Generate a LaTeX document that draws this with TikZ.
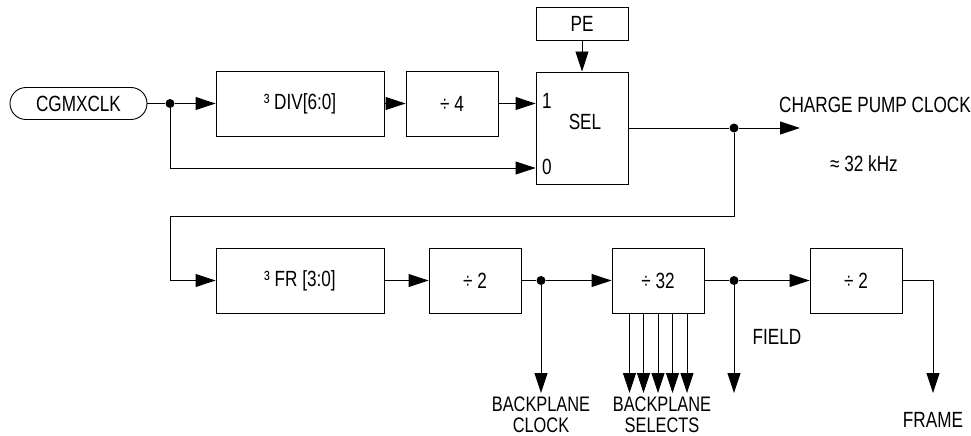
\documentclass[tikz,border=0pt]{standalone}
\usepackage{fontspec}
\setmainfont{Liberation Sans}[FakeStretch=0.78]
\usetikzlibrary{arrows.meta}

\begin{document}
\begin{tikzpicture}[x=1pt, y=-1pt, line width=0.9pt,
    font=\fontsize{22}{19}\selectfont,
    blk/.style={draw, minimum height=65pt, inner sep=0pt},
    wideblk/.style={blk, minimum width=168pt},
    smallblk/.style={blk, minimum width=92pt},
    sig/.style={-{Triangle[length=20pt,width=13pt]}},
    dot/.style={circle, fill, inner sep=0pt, minimum size=9pt},
    txt/.style={inner sep=0pt, align=center},
    twoline/.style={txt, font=\fontsize{21}{20.5}\selectfont}]
  \useasboundingbox (0,0) rectangle (971,436);

  % upper row
  \node[draw, rounded corners=16pt, minimum width=137pt, minimum height=32pt] (clk) at (78.5,103.5) {CGMXCLK};
  \node[wideblk] (div) at (300,103.5) {³ DIV[6:0]};
  \node[smallblk] (dfour) at (452,103.5) {÷ 4};
  \node[smallblk, minimum height=112pt] (sel) at (582,128) {};
  \node[smallblk, minimum height=33pt] (pe) at (582,23.5) {PE};
  \node[txt] (sellbl) at (585,122) {SEL};
  \node[txt] (inone) at (547,101) {1};
  \node[txt] (inzero) at (547,167) {0};
  \node[txt] (cpclbl) at (875,105) {CHARGE PUMP CLOCK};
  \node[txt] (khz) at (864,164) {≈ 32 kHz};

  \node[dot] (j1) at (170,103.5) {};
  \node[dot] (j2) at (734,128) {};
  \coordinate (low) at (0,168);
  \coordinate (cpc) at (800,128);
  \coordinate (back) at (170,216);

  \draw (clk) -- (j1);
  \draw[sig] (j1) -- (div);
  \draw[sig] (div) -- (dfour);
  \draw[sig] (dfour) -- (dfour -| sel.west);
  \draw[sig] (j1) |- (low -| sel.west);
  \draw[sig] (pe) -- (sel);
  \draw (sel) -- (j2);
  \draw[sig] (j2) -- (cpc);

  % lower row
  \node[wideblk] (fr) at (300,280.5) {³ FR [3:0]};
  \node[smallblk] (dtwo) at (475,280.5) {÷ 2};
  \node[smallblk] (dtt) at (658,280.5) {÷ 32};
  \node[smallblk] (dfr) at (856,280.5) {÷ 2};

  \node[dot] (j3) at (541,280.5) {};
  \node[dot] (j4) at (734,280.5) {};
  \coordinate (tips) at (0,393);
  \coordinate (frcorner) at (933,280.5);

  \draw[sig] (j2) |- (back) |- (fr);
  \draw[sig] (fr) -- (dtwo);
  \draw (dtwo) -- (j3);
  \draw[sig] (j3) -- (dtt);
  \draw[sig] (j3) -- (j3 |- tips);
  \foreach \dx in {-28.5,-14.5,0,14.5,29}
    \draw[sig] ([xshift=\dx]dtt.south) -- ([xshift=\dx]dtt.south |- tips);
  \draw (dtt) -- (j4);
  \draw[sig] (j4) -- (dfr);
  \draw[sig] (j4) -- (j4 |- tips);
  \draw[sig] (dfr) -- (frcorner) -- (frcorner |- tips);

  \node[twoline] (bpclk) at (541,415) {BACKPLANE\\CLOCK};
  \node[twoline] (bpsel) at (662,415) {BACKPLANE\\SELECTS};
  \node[txt] (field) at (777,337) {FIELD};
  \node[txt] (frame) at (933,420) {FRAME};
\end{tikzpicture}
\end{document}
